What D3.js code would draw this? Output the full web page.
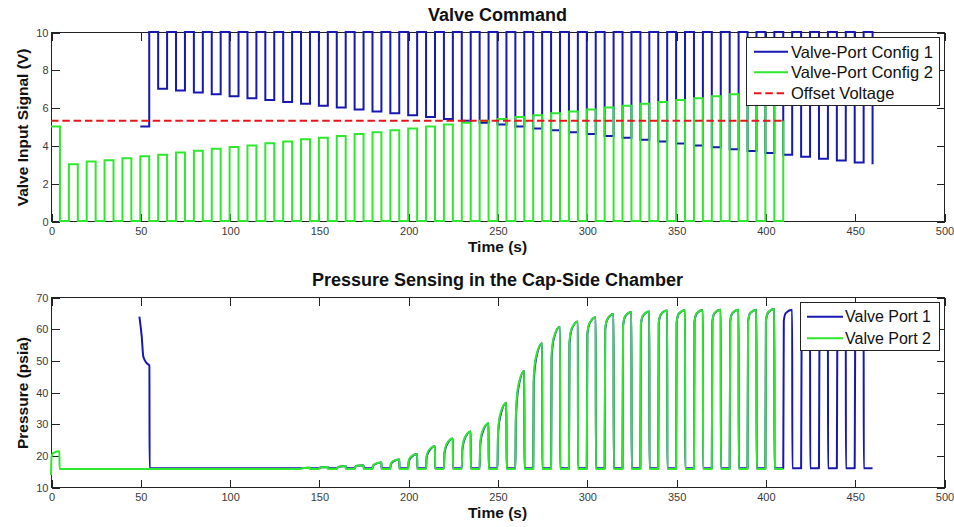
<!DOCTYPE html>
<html>
<head>
<meta charset="utf-8">
<script src="https://cdn.jsdelivr.net/npm/d3@7"></script>
<style>
  body { margin: 0; background: #fff; }
  svg { display: block; font-family: Arial, "Liberation Sans", Helvetica, sans-serif; }
</style>
</head>
<body>
<svg id="chart" width="954" height="527"></svg>
<script>
// ---------------- data ----------------
const timeTicks  = [0, 50, 100, 150, 200, 250, 300, 350, 400, 450, 500];
const voltTicks  = [0, 2, 4, 6, 8, 10];
const pressTicks = [10, 20, 30, 40, 50, 60, 70];

// Valve command, config 2: 5 V hold (0-5 s), then 5 s openings at a rising level
const cmd2Hold = 5.0;
const cmd2OpenAt = [10, 20, 30, 40, 50, 60, 70, 80, 90, 100, 110, 120, 130, 140, 150, 160, 170, 180, 190, 200,
                    210, 220, 230, 240, 250, 260, 270, 280, 290, 300, 310, 320, 330, 340, 350, 360, 370, 380, 390, 400];
const cmd2Level  = [3.0, 3.15, 3.22, 3.32, 3.42, 3.51, 3.63, 3.72, 3.82, 3.92, 4.0, 4.11, 4.21, 4.32, 4.41, 4.5, 4.6, 4.7, 4.8, 4.9,
                    5.0, 5.1, 5.2, 5.3, 5.4, 5.5, 5.6, 5.7, 5.8, 5.9, 6.0, 6.1, 6.2, 6.3, 6.4, 6.5, 6.6, 6.7, 6.8, 6.9];
const cmd2EndAt = 410, cmd2EndLevel = 5.3;

// Valve command, config 1: 5 V hold (50-55 s), 10 V, then 5 s dips at a falling level
const cmd1Hold = 5.0, cmd1Max = 10;
const cmd1DipAt = [60, 70, 80, 90, 100, 110, 120, 130, 140, 150, 160, 170, 180, 190, 200, 210, 220, 230, 240, 250,
                   260, 270, 280, 290, 300, 310, 320, 330, 340, 350, 360, 370, 380, 390, 400, 410, 420, 430, 440, 450];
const cmd1Level = [7.0, 6.9, 6.8, 6.7, 6.6, 6.5, 6.4, 6.3, 6.2, 6.1, 6.0, 5.9, 5.8, 5.7, 5.6, 5.5, 5.4, 5.3, 5.2, 5.1,
                   5.0, 4.9, 4.8, 4.7, 4.6, 4.5, 4.4, 4.3, 4.2, 4.1, 4.0, 3.9, 3.8, 3.7, 3.6, 3.5, 3.4, 3.3, 3.2, 3.1];
const cmd1EndAt = 460, cmd1EndLevel = 3.0;

const offsetVoltage = 5.3, offsetEnd = 410;

// Cap-side pressure, port 2 (psia)
const p2Startup = [[0, 13.8], [0.3, 19.5], [1.0, 20.6], [4.7, 21.3], [4.8, 15.7]];
const p2Base = 15.7;
const p2OpenAt = [140, 150, 160, 170, 180, 190, 200, 210, 220, 230, 240, 250, 260, 270, 280, 290, 300, 310, 320, 330,
                  340, 350, 360, 370, 380, 390, 400];
const p2Knee = [15.9, 16.0, 16.1, 16.3, 16.8, 17.4, 18.3, 19.7, 21.0, 22.2, 23.8, 27.5, 33.0, 45.0, 52.0, 56.0, 58.5, 60.0, 61.0, 61.5,
                62.0, 62.0, 62.2, 62.3, 62.3, 62.3, 62.5];
const p2Mid  = [16.0, 16.2, 16.4, 16.7, 17.3, 18.2, 19.6, 21.6, 23.6, 25.4, 27.6, 33.0, 41.6, 51.0, 57.2, 60.0, 61.8, 63.0, 64.0, 64.2,
                64.6, 64.8, 64.9, 65.0, 65.0, 65.0, 65.2];
const p2Peak = [16.1, 16.3, 16.6, 16.9, 17.7, 18.7, 20.4, 22.9, 25.3, 27.5, 30.1, 36.6, 46.6, 55.4, 60.6, 62.3, 63.6, 64.6, 65.3, 65.4,
                65.7, 65.8, 65.9, 66.0, 66.0, 66.0, 66.2];
const p2EndAt = 410;

// Cap-side pressure, port 1 (psia)
const p1Startup = [[49.5, 63.8], [50.8, 57.5], [51.7, 51.1], [53.6, 49.1], [55.1, 48.3], [55.2, 15.9]];
const p1Base = 15.9;
const p1OpenAt = [140, 150, 160, 170, 180, 190, 200, 210, 220, 230, 240, 250, 260, 270, 280, 290, 300, 310, 320, 330,
                  340, 350, 360, 370, 380, 390, 400, 410, 420, 430, 440, 450];
const p1Knee = [15.9, 16.0, 16.1, 16.3, 16.7, 17.2, 18.0, 19.3, 20.5, 21.6, 23.0, 26.5, 31.5, 43.0, 50.5, 55.0, 58.0, 59.6, 60.8, 61.3,
                61.8, 61.9, 62.1, 62.2, 62.2, 62.2, 62.4, 62.5, 62.5, 62.5, 62.5, 62.5];
const p1Mid  = [16.0, 16.2, 16.4, 16.7, 17.2, 18.0, 19.3, 21.2, 23.2, 25.0, 27.0, 32.2, 40.6, 50.2, 56.8, 59.8, 61.6, 62.9, 63.9, 64.1,
                64.5, 64.7, 64.8, 64.9, 64.9, 64.9, 65.1, 65.0, 65.1, 65.0, 65.0, 65.0];
const p1Peak = [16.1, 16.3, 16.6, 16.9, 17.7, 18.7, 20.4, 22.9, 25.3, 27.5, 30.1, 36.6, 46.6, 55.4, 60.6, 62.3, 63.6, 64.6, 65.3, 65.4,
                65.7, 65.8, 65.9, 66.0, 66.0, 66.0, 66.2, 66.0, 66.1, 66.0, 65.9, 66.0];
const p1EndAt = 460;

// ---------------- styling ----------------
const BLUE = "#1717b2", GREEN = "#2ee82e", RED = "#e8141a";

// ---------------- build series ----------------
function cmd2Points() {
  const pts = [[0, cmd2Hold], [5, cmd2Hold], [5, 0]];
  cmd2OpenAt.forEach((t, i) => {
    pts.push([t, 0], [t, cmd2Level[i]], [t + 5, cmd2Level[i]], [t + 5, 0]);
  });
  pts.push([cmd2EndAt, 0], [cmd2EndAt, cmd2EndLevel]);
  return pts;
}
function cmd1Points() {
  const pts = [[50, cmd1Hold], [55, cmd1Hold], [55, cmd1Max]];
  cmd1DipAt.forEach((t, i) => {
    pts.push([t, cmd1Max], [t, cmd1Level[i]], [t + 5, cmd1Level[i]], [t + 5, cmd1Max]);
  });
  pts.push([cmd1EndAt, cmd1Max], [cmd1EndAt, cmd1EndLevel]);
  return pts;
}
function pressurePoints(startup, base, openAt, knee, mid, peak, endAt) {
  const pts = startup.slice();
  openAt.forEach((t, i) => {
    pts.push([t, base], [t + 0.3, knee[i]], [t + 1.5, mid[i]], [t + 5, peak[i]], [t + 5.08, base]);
  });
  pts.push([endAt, base]);
  return pts;
}

// ---------------- layout ----------------
const svg = d3.select("#chart");
const X0 = 51, X1 = 944;
const x = d3.scaleLinear().domain([0, 500]).range([X0, X1]);

const panels = [
  { top: 32, bottom: 221, domain: [0, 10], ticks: voltTicks,
    title: "Valve Command", titleY: 20.5, xlabelY: 252.4, ylabel: "Valve Input Signal (V)" },
  { top: 297, bottom: 487, domain: [10, 70], ticks: pressTicks,
    title: "Pressure Sensing in the Cap-Side Chamber", titleY: 286.3, xlabelY: 518.4, ylabel: "Pressure (psia)" }
];
panels.forEach(p => { p.y = d3.scaleLinear().domain(p.domain).range([p.bottom, p.top]); });

function drawAxes(p) {
  const g = svg.append("g");
  g.append("rect")
    .attr("x", X0 + 0.5).attr("y", p.top + 0.5)
    .attr("width", X1 - X0).attr("height", p.bottom - p.top)
    .attr("fill", "#fff").attr("stroke", "#222").attr("stroke-width", 1)
    .attr("shape-rendering", "crispEdges");

  const style = sel => {
    sel.select(".domain").remove();
    sel.selectAll(".tick line").attr("stroke", "#222").attr("shape-rendering", "crispEdges");
    sel.selectAll(".tick text").attr("fill", "#3a3a3a").attr("font-size", "11px")
       .attr("font-family", "Arial, 'Liberation Sans', sans-serif");
  };
  g.append("g").attr("transform", `translate(0.5,${p.bottom + 0.5})`)
    .call(d3.axisBottom(x).tickValues(timeTicks).tickSize(-8).tickPadding(6).tickFormat(d3.format("d"))).call(style);
  g.append("g").attr("transform", `translate(0.5,${p.top + 0.5})`)
    .call(d3.axisTop(x).tickValues(timeTicks).tickSize(-8).tickFormat("")).call(style);
  g.append("g").attr("transform", `translate(${X0 + 0.5},0.5)`)
    .call(d3.axisLeft(p.y).tickValues(p.ticks).tickSize(-8).tickPadding(3).tickFormat(d3.format("d"))).call(style);
  g.append("g").attr("transform", `translate(${X1 + 0.5},0.5)`)
    .call(d3.axisRight(p.y).tickValues(p.ticks).tickSize(-8).tickFormat("")).call(style);

  svg.append("text").attr("x", 497.5).attr("y", p.titleY).attr("text-anchor", "middle")
    .attr("font-size", "18px").attr("font-weight", "bold").attr("fill", "#111").text(p.title);
  svg.append("text").attr("x", 497.5).attr("y", p.xlabelY).attr("text-anchor", "middle")
    .attr("font-size", "15.5px").attr("font-weight", "bold").attr("fill", "#111").text("Time (s)");
  svg.append("text").attr("transform", `translate(28,${(p.top + p.bottom) / 2 + 1}) rotate(-90)`)
    .attr("text-anchor", "middle").attr("font-size", "15.5px").attr("font-weight", "bold")
    .attr("fill", "#111").text(p.ylabel);
}
panels.forEach(drawAxes);

// ---------------- top panel: valve command ----------------
const pc = panels[0];
const stepLine = d3.line().x(d => x(d[0])).y(d => pc.y(d[1]));
const gTop = svg.append("g").attr("fill", "none").attr("stroke-width", 2).attr("stroke-linejoin", "miter");
gTop.append("path").attr("d", stepLine(cmd1Points())).attr("stroke", BLUE);
gTop.append("path").attr("d", stepLine(cmd2Points())).attr("stroke", GREEN);
gTop.append("path").attr("d", stepLine([[0, offsetVoltage], [offsetEnd, offsetVoltage]]))
  .attr("stroke", RED).attr("stroke-dasharray", "7.5,3.8");

// ---------------- bottom panel: pressure ----------------
const pp = panels[1];
const pLine = d3.line().x(d => x(d[0])).y(d => pp.y(d[1])).curve(d3.curveMonotoneX);
const gBot = svg.append("g").attr("fill", "none").attr("stroke-width", 2).attr("stroke-linejoin", "round");
gBot.append("path")
  .attr("d", pLine(pressurePoints(p1Startup, p1Base, p1OpenAt, p1Knee, p1Mid, p1Peak, p1EndAt)))
  .attr("stroke", BLUE);
gBot.append("path")
  .attr("d", pLine(pressurePoints(p2Startup, p2Base, p2OpenAt, p2Knee, p2Mid, p2Peak, p2EndAt)))
  .attr("stroke", GREEN);

// ---------------- legends ----------------
function legend(box, items, fontSize) {
  const g = svg.append("g");
  g.append("rect").attr("x", box.x + 0.5).attr("y", box.y + 0.5).attr("width", box.w).attr("height", box.h)
    .attr("fill", "#fff").attr("stroke", "#222").attr("shape-rendering", "crispEdges");
  items.forEach((it, i) => {
    const cy = box.rows[i];
    g.append("line").attr("x1", box.lx0).attr("x2", box.lx1).attr("y1", cy).attr("y2", cy)
      .attr("stroke", it.color).attr("stroke-width", 2)
      .attr("stroke-dasharray", it.dash || null);
    g.append("text").attr("x", box.tx).attr("y", cy).attr("dy", "0.36em")
      .attr("font-size", fontSize).attr("fill", "#111").text(it.label);
  });
}
legend({ x: 746, y: 37, w: 193, h: 68, rows: [51.7, 72.3, 93.3], lx0: 754, lx1: 788, tx: 791 },
  [{ label: "Valve-Port Config 1", color: BLUE },
   { label: "Valve-Port Config 2", color: GREEN },
   { label: "Offset Voltage", color: RED, dash: "7.5,3.8" }], "16.5px");
legend({ x: 800, y: 302, w: 139, h: 48, rows: [316.7, 338.3], lx0: 807, lx1: 843, tx: 845 },
  [{ label: "Valve Port 1", color: BLUE },
   { label: "Valve Port 2", color: GREEN }], "16px");
</script>
</body>
</html>
